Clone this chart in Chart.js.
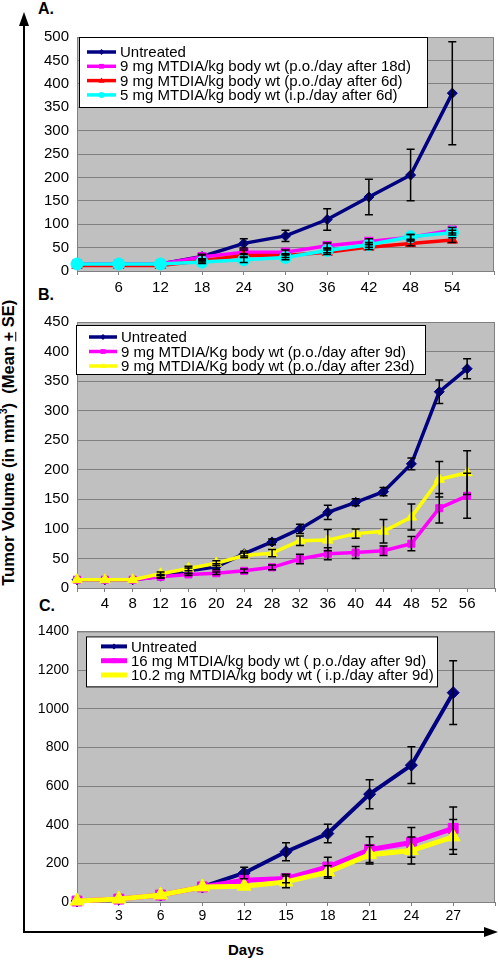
<!DOCTYPE html>
<html>
<head>
<meta charset="utf-8">
<script src="https://cdn.jsdelivr.net/npm/chart.js@4.4.0/dist/chart.umd.min.js"></script>
<style>
  body { margin: 0; background: #fff; }
  #wrap { position: relative; width: 498px; height: 960px; font-family: Arial, "Liberation Sans", sans-serif; }
  .box { position: absolute; }
  .tag { position: absolute; font-weight: bold; font-size: 16px; }
</style>
</head>
<body>
<div id="wrap">
  <svg class="box" style="left:0;top:0" width="498" height="960">
    <line x1="24" y1="22" x2="24" y2="932" stroke="#000" stroke-width="2"/>
    <polygon points="24,12 19,26 29,26" fill="#000"/>
    <line x1="23" y1="932" x2="486" y2="932" stroke="#000" stroke-width="2"/>
    <polygon points="498,932 484,927 484,937" fill="#000"/>
  </svg>
  <div class="tag" style="left:38px;top:0px">A.</div>
  <div class="tag" style="left:38px;top:286px">B.</div>
  <div class="tag" style="left:39px;top:597px">C.</div>
  <div class="tag" style="left:228px;top:941px;font-size:15px">Days</div>
  <div class="box" style="left:-192px;top:433px;width:400px;text-align:center;font-weight:bold;font-size:16.5px;transform:rotate(-90deg);white-space:pre">Tumor Volume (in mm<sup style="font-size:10px">3</sup>)  (Mean <u>+</u> SE)</div>
  <canvas id="chartA" class="box" style="left:30px;top:20px" width="468" height="280"></canvas>
  <canvas id="chartB" class="box" style="left:30px;top:305px" width="468" height="310"></canvas>
  <canvas id="chartC" class="box" style="left:30px;top:615px" width="468" height="315"></canvas>
</div>
<script>
// Panel A
const daysA = [0, 6, 12, 18, 24, 30, 36, 42, 48, 54];
const untreatedA = [15, 15, 15, 31, 59, 75, 110, 158, 205, 380];
const untreatedErrA = [0, 0, 0, 5, 10, 12, 23, 38, 55, 110];
const po18A = [15, 15, 15, 30, 40, 40, 54, 63, 72, 87];
const po18ErrA = [0, 0, 0, 4, 5, 5, 6, 6, 6, 6];
const po6A = [12, 12, 12, 22, 33, 33, 40, 51, 59, 66];
const po6ErrA = [0, 0, 0, 3, 4, 4, 5, 5, 5, 5];
const ip6A = [15, 15, 15, 19, 24, 29, 44, 56, 73, 82];
const ip6ErrA = [0, 0, 0, 3, 6, 5, 5, 5, 5, 5];
const yTicksA = [0, 500, 50];

// Panel B
const daysB = [0, 4, 8, 12, 16, 20, 24, 28, 32, 36, 40, 44, 48, 52, 56];
const untreatedB = [14, 14, 14, 20, 29, 36, 58, 78, 100, 128, 145, 163, 210, 332, 371];
const untreatedErrB = [0, 0, 0, 3, 5, 5, 4, 5, 8, 12, 6, 7, 10, 20, 17];
const po9B = [14, 14, 14, 19, 23, 25, 29, 35, 49, 58, 60, 63, 75, 135, 156];
const po9ErrB = [0, 0, 0, 2, 2, 2, 3, 4, 8, 10, 10, 8, 12, 25, 38];
const po23B = [14, 14, 14, 24, 33, 42, 55, 59, 80, 81, 92, 96, 120, 184, 195];
const po23ErrB = [0, 0, 0, 3, 4, 4, 4, 6, 8, 18, 8, 20, 22, 30, 37];
const yTicksB = [0, 450, 50];

// Panel C
const daysC = [0, 3, 6, 9, 12, 15, 18, 21, 24, 27];
const untreatedC = [5, 15, 36, 78, 150, 260, 354, 558, 708, 1083];
const untreatedErrC = [0, 0, 0, 0, 30, 46, 48, 75, 95, 165];
const po16C = [5, 15, 36, 78, 112, 121, 181, 271, 308, 381];
const po16ErrC = [0, 0, 0, 0, 0, 22, 50, 66, 77, 110];
const ip10C = [5, 15, 36, 78, 82, 104, 155, 245, 266, 337];
const ip10ErrC = [0, 0, 0, 0, 0, 30, 32, 48, 70, 90];
const yTicksC = [0, 1400, 200];

const NAVY = '#000080', MAGENTA = '#FF00FF', RED = '#FF0000', CYAN = '#00FFFF', YELLOW = '#FFFF00';

// grey plot area + frame
const plotBg = {
  id: 'plotBg',
  beforeDraw(chart) {
    const { ctx, chartArea: a } = chart;
    ctx.save();
    ctx.fillStyle = '#C0C0C0';
    ctx.fillRect(a.left, a.top, a.right - a.left, a.bottom - a.top);
    ctx.restore();
  },
  beforeDatasetsDraw(chart) {
    const { ctx, chartArea: a } = chart;
    ctx.save();
    ctx.strokeStyle = '#808080';
    ctx.lineWidth = 1;
    ctx.strokeRect(a.left + 0.5, a.top + 0.5, a.right - a.left - 1, a.bottom - a.top);
    ctx.restore();
  }
};

// vertical error bars
const errorBars = {
  id: 'errorBars',
  afterDatasetsDraw(chart) {
    const ctx = chart.ctx;
    const ys = chart.scales.y;
    ctx.save();
    ctx.strokeStyle = '#000';
    ctx.lineWidth = 1.5;
    chart.data.datasets.forEach((ds, i) => {
      if (!ds.errors) return;
      chart.getDatasetMeta(i).data.forEach((pt, j) => {
        const e = ds.errors[j];
        if (!e) return;
        const v = ds.data[j].y;
        const t = ys.getPixelForValue(v + e), b = ys.getPixelForValue(v - e);
        ctx.beginPath();
        ctx.moveTo(pt.x, t); ctx.lineTo(pt.x, b);
        ctx.moveTo(pt.x - 4, t); ctx.lineTo(pt.x + 4, t);
        ctx.moveTo(pt.x - 4, b); ctx.lineTo(pt.x + 4, b);
        ctx.stroke();
      });
    });
    ctx.restore();
  }
};

function marker(ctx, style, x, y, r) {
  ctx.beginPath();
  if (style === 'rectRot') {
    ctx.moveTo(x, y - r); ctx.lineTo(x + r, y); ctx.lineTo(x, y + r); ctx.lineTo(x - r, y);
  } else if (style === 'rect') {
    ctx.rect(x - r * 0.8, y - r * 0.8, r * 1.6, r * 1.6);
  } else if (style === 'triangle') {
    ctx.moveTo(x, y - r); ctx.lineTo(x + r, y + r * 0.7); ctx.lineTo(x - r, y + r * 0.7);
  } else {
    ctx.arc(x, y, r, 0, Math.PI * 2);
  }
  ctx.closePath();
  ctx.fill();
}

// boxed legend inside the plot area
const boxLegend = {
  id: 'boxLegend',
  afterDraw(chart, args, o) {
    const { ctx, chartArea: a } = chart;
    const x = a.left + o.dx, y = a.top + o.dy;
    ctx.save();
    ctx.fillStyle = '#fff';
    ctx.fillRect(x, y, o.w, o.h);
    ctx.strokeStyle = '#000';
    ctx.lineWidth = 1;
    ctx.strokeRect(x + 0.5, y + 0.5, o.w, o.h);
    ctx.font = o.font;
    ctx.textBaseline = 'middle';
    chart.data.datasets.forEach((ds, i) => {
      const cy = y + o.first + i * o.row;
      ctx.strokeStyle = ds.borderColor;
      ctx.lineWidth = ds.borderWidth;
      ctx.beginPath();
      ctx.moveTo(x + o.l0, cy); ctx.lineTo(x + o.l1, cy);
      ctx.stroke();
      ctx.fillStyle = ds.borderColor;
      marker(ctx, ds.pointStyle, x + (o.l0 + o.l1) / 2, cy, 3);
      ctx.fillStyle = '#000';
      ctx.fillText(ds.label, x + o.tx, cy + 1);
    });
    ctx.restore();
  }
};

function series(label, days, vals, errs, color, style, width, radius, order) {
  return {
    label: label,
    data: days.map((d, i) => ({ x: d, y: vals[i] })),
    errors: errs,
    borderColor: color,
    backgroundColor: color,
    pointBackgroundColor: color,
    pointBorderColor: color,
    borderWidth: width,
    pointStyle: style,
    pointRadius: radius,
    pointBorderWidth: 1,
    tension: 0,
    clip: false,
    order: order
  };
}

function panel(id, datasets, xMax, xStep, yT, tickSize, pad, xH, tickPad, legend) {
  new Chart(document.getElementById(id), {
    type: 'line',
    data: { datasets: datasets },
    options: {
      responsive: false,
      animation: false,
      layout: { padding: { top: pad, right: 3, left: 0, bottom: 0 }, autoPadding: false },
      scales: {
        x: {
          type: 'linear', min: 0, max: xMax,
          afterFit: s => { s.height = xH; },
          grid: { display: true, drawOnChartArea: false, drawTicks: true, tickLength: 4, color: '#808080' },
          border: { color: '#808080' },
          ticks: {
            stepSize: xStep, autoSkip: false, maxRotation: 0, padding: tickPad,
            color: '#000', font: { family: 'Arial, "Liberation Sans"', size: tickSize },
            callback: v => (v === 0 || v === xMax) ? '' : String(v)
          }
        },
        y: {
          min: yT[0], max: yT[1],
          afterFit: s => { s.width = 47; },
          grid: { color: '#808080', drawTicks: false },
          border: { color: '#808080' },
          ticks: {
            stepSize: yT[2], padding: 8, color: '#000',
            font: { family: 'Arial, "Liberation Sans"', size: tickSize },
            callback: v => String(v)
          }
        }
      },
      plugins: {
        legend: { display: false },
        tooltip: { enabled: false },
        boxLegend: legend
      }
    },
    plugins: [plotBg, errorBars, boxLegend]
  });
}

const legendFont = '15px Arial, "Liberation Sans"';

panel('chartA', [
  series('Untreated', daysA, untreatedA, untreatedErrA, NAVY, 'rectRot', 3.5, 5, 3),
  series('9 mg MTDIA/kg body wt (p.o./day after 18d)', daysA, po18A, po18ErrA, MAGENTA, 'rect', 3.5, 6, 2),
  series('9 mg MTDIA/kg body wt (p.o./day after 6d)', daysA, po6A, po6ErrA, RED, 'triangle', 3.5, 6, 1),
  series('5 mg MTDIA/kg body wt (i.p./day after 6d)', daysA, ip6A, ip6ErrA, CYAN, 'circle', 3.5, 6, 0)
], 60, 6, yTicksA, 15, 13, 29, 4,
  { dx: 2, dy: 0, w: 348, h: 70, first: 15, row: 14.3, l0: 8, l1: 37, tx: 41, font: legendFont });

panel('chartB', [
  series('Untreated', daysB, untreatedB, untreatedErrB, NAVY, 'rectRot', 3.5, 5, 2),
  series('9 mg MTDIA/Kg body wt (p.o./day after 9d)', daysB, po9B, po9ErrB, MAGENTA, 'rect', 3.5, 5, 1),
  series('9 mg MTDIA/Kg body wt (p.o./day after 23d)', daysB, po23B, po23ErrB, YELLOW, 'triangle', 3.5, 6, 0)
], 60, 4, yTicksB, 15, 12, 27, 3,
  { dx: -1, dy: 3, w: 349, h: 49, first: 12, row: 14.5, l0: 13, l1: 41, tx: 45, font: legendFont });

panel('chartC', [
  series('Untreated', daysC, untreatedC, untreatedErrC, NAVY, 'rectRot', 4, 6, 2),
  series('16 mg MTDIA/kg body wt ( p.o./day after 9d)', daysC, po16C, po16ErrC, MAGENTA, 'rect', 5, 7, 1),
  series('10.2 mg MTDIA/kg body wt ( i.p./day after 9d)', daysC, ip10C, ip10ErrC, YELLOW, 'triangle', 5, 8, 0)
], 30, 3, yTicksC, 14, 13, 28, 2,
  { dx: 9, dy: 5, w: 351, h: 50, first: 10, row: 14.3, l0: 15, l1: 41, tx: 45, font: legendFont });
</script>
</body>
</html>
